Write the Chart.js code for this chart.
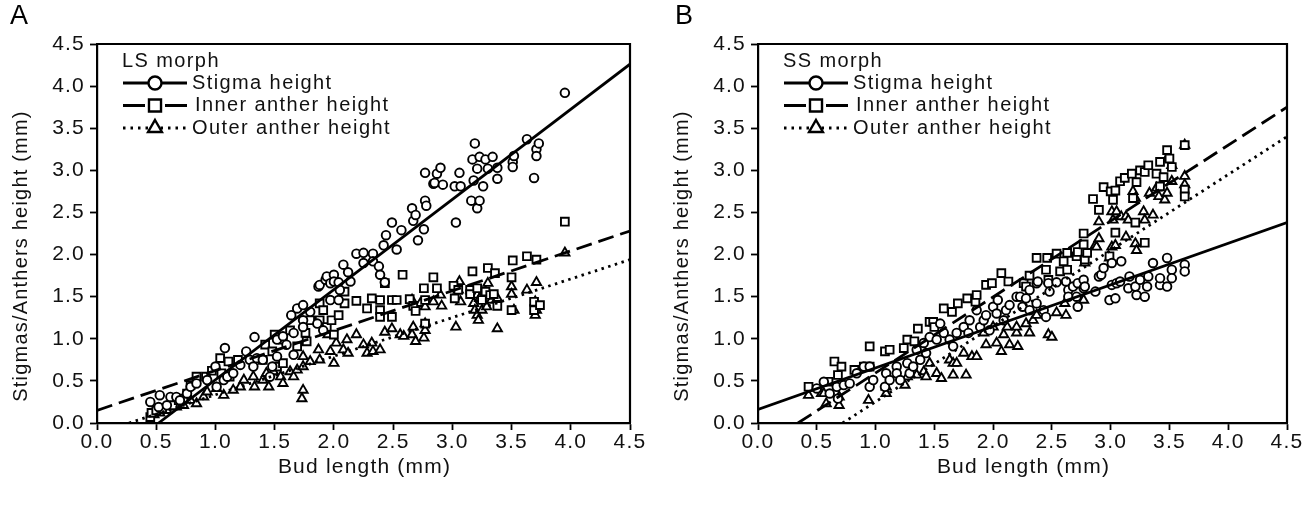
<!DOCTYPE html>
<html>
<head>
<meta charset="utf-8">
<script src="https://cdn.jsdelivr.net/npm/chart.js@4.4.0/dist/chart.umd.min.js"></script>
<style>
  html, body { margin: 0; padding: 0; background: #fff; }
  body { width: 1313px; height: 508px; position: relative; overflow: hidden; font-family: "Liberation Sans", Arial, sans-serif; }
  .panel { position: absolute; top: 0; height: 508px; }
  #wrapA { left: 0; width: 656px; }
  #wrapB { left: 656px; width: 657px; }
  .letter { position: absolute; top: 0px; font-size: 27px; color: #000; z-index: 2; }
</style>
</head>
<body>
<div class="letter" style="left:10px">A</div>
<div class="letter" style="left:675px">B</div>
<div class="panel" id="wrapA"><canvas id="chartA" width="656" height="508"></canvas></div>
<div class="panel" id="wrapB"><canvas id="chartB" width="657" height="508"></canvas></div>
<script>
// ---- data: [bud length, height] in mm ----
const xTicks = [0, 0.5, 1, 1.5, 2, 2.5, 3, 3.5, 4, 4.5];
const yTicks = [0, 0.5, 1, 1.5, 2, 2.5, 3, 3.5, 4, 4.5];

// panel A, LS morph
const lsStigma = [[0.45,0.25],[0.52,0.19],[0.53,0.33],[0.59,0.21],[0.62,0.31],[0.67,0.31],[0.70,0.27],[0.76,0.35],[0.79,0.43],[0.84,0.47],[0.93,0.51],[1.00,0.67],[1.01,0.43],[1.07,0.51],[1.08,0.89],[1.10,0.55],[1.15,0.59],[1.21,0.69],[1.26,0.85],[1.29,0.75],[1.32,0.67],[1.33,1.02],[1.35,0.77],[1.40,0.75],[1.46,0.55],[1.48,0.67],[1.52,0.79],[1.52,0.99],[1.57,1.03],[1.60,0.93],[1.64,1.28],[1.66,1.07],[1.66,0.81],[1.69,1.36],[1.74,1.40],[1.74,1.22],[1.74,1.14],[1.80,1.32],[1.86,1.18],[1.87,1.62],[1.88,1.64],[1.91,1.10],[1.93,1.70],[1.94,1.74],[1.97,1.46],[1.97,1.66],[2.00,1.76],[2.00,1.68],[2.04,1.67],[2.04,1.46],[2.05,1.58],[2.08,1.88],[2.12,1.79],[2.14,1.68],[2.19,2.01],[2.25,2.02],[2.25,1.90],[2.33,2.01],[2.33,1.92],[2.38,1.86],[2.39,1.76],[2.42,2.11],[2.43,1.67],[2.44,2.23],[2.49,2.38],[2.53,2.06],[2.57,2.29],[2.66,2.55],[2.67,2.40],[2.69,2.47],[2.71,2.17],[2.76,2.30],[2.77,2.64],[2.77,2.97],[2.78,2.58],[2.84,2.84],[2.85,2.85],[2.87,2.96],[2.90,3.03],[2.92,2.83],[3.02,2.81],[3.03,2.38],[3.06,2.97],[3.07,2.81],[3.16,2.64],[3.17,3.13],[3.18,2.88],[3.19,3.32],[3.21,3.02],[3.21,2.55],[3.23,2.64],[3.23,3.16],[3.26,2.81],[3.28,3.13],[3.30,3.02],[3.34,3.16],[3.38,3.03],[3.38,2.90],[3.51,3.10],[3.51,3.04],[3.52,3.17],[3.63,3.37],[3.69,2.91],[3.71,3.25],[3.71,3.17],[3.73,3.32],[3.95,3.92]];
const lsInner = [[0.45,0.07],[0.46,0.12],[0.50,0.15],[0.55,0.17],[0.64,0.21],[0.69,0.27],[0.73,0.29],[0.76,0.35],[0.79,0.45],[0.84,0.55],[0.92,0.55],[0.97,0.62],[1.04,0.77],[1.05,0.59],[1.11,0.73],[1.12,0.55],[1.19,0.75],[1.40,0.75],[1.42,0.93],[1.48,0.85],[1.50,1.05],[1.52,0.67],[1.57,0.99],[1.57,0.71],[1.63,1.10],[1.69,0.91],[1.76,1.07],[1.77,0.97],[1.80,1.22],[1.88,1.42],[1.88,1.22],[1.91,1.34],[1.94,1.14],[1.98,1.22],[2.00,1.05],[2.04,1.28],[2.09,1.56],[2.09,1.42],[2.19,1.45],[2.28,1.36],[2.32,1.48],[2.39,1.46],[2.39,1.34],[2.39,1.26],[2.43,1.66],[2.49,1.46],[2.49,1.26],[2.53,1.46],[2.58,1.76],[2.64,1.47],[2.67,1.39],[2.69,1.33],[2.76,1.60],[2.77,1.46],[2.77,1.18],[2.84,1.73],[2.87,1.60],[3.01,1.63],[3.02,1.48],[3.05,1.58],[3.15,1.58],[3.15,1.53],[3.17,1.80],[3.21,1.60],[3.25,1.46],[3.28,1.56],[3.30,1.84],[3.32,1.52],[3.35,1.53],[3.36,1.78],[3.38,1.39],[3.50,1.73],[3.50,1.34],[3.51,1.93],[3.63,1.98],[3.69,1.44],[3.69,1.34],[3.71,1.94],[3.74,1.40],[3.95,2.39]];
const lsOuter = [[0.48,0.10],[0.53,0.12],[0.59,0.15],[0.67,0.19],[0.73,0.21],[0.79,0.27],[0.84,0.23],[0.90,0.31],[0.93,0.37],[1.01,0.41],[1.07,0.33],[1.15,0.39],[1.21,0.43],[1.24,0.51],[1.32,0.55],[1.33,0.43],[1.40,0.51],[1.43,0.59],[1.45,0.43],[1.49,0.61],[1.55,0.55],[1.57,0.47],[1.63,0.61],[1.66,0.55],[1.69,0.63],[1.73,0.29],[1.74,0.39],[1.74,0.79],[1.74,0.67],[1.80,0.73],[1.87,0.87],[1.88,0.75],[1.95,1.05],[1.97,0.85],[2.00,0.71],[2.02,0.95],[2.08,0.87],[2.11,0.99],[2.12,0.83],[2.19,1.05],[2.25,0.93],[2.28,0.83],[2.32,0.95],[2.33,0.85],[2.39,0.87],[2.43,1.08],[2.49,1.12],[2.56,1.05],[2.59,1.03],[2.66,1.05],[2.67,1.14],[2.69,0.97],[2.66,1.46],[2.73,1.42],[2.76,1.01],[2.77,1.18],[2.77,1.10],[2.77,1.38],[2.84,1.44],[2.90,1.52],[2.91,1.39],[3.03,1.14],[3.05,1.58],[3.06,1.68],[3.07,1.44],[3.18,1.42],[3.19,1.34],[3.21,1.52],[3.21,1.28],[3.22,1.22],[3.23,1.48],[3.25,1.34],[3.28,1.56],[3.29,1.38],[3.30,1.66],[3.33,1.46],[3.38,1.48],[3.38,1.12],[3.50,1.62],[3.50,1.53],[3.52,1.34],[3.63,1.58],[3.70,1.44],[3.71,1.34],[3.70,1.28],[3.71,1.67],[3.95,2.02]];
const lsStigmaFit = [[0.52,0],[4.5,4.26]];
const lsInnerFit = [[0,0.15],[4.5,2.28]];
const lsOuterFit = [[0.27,0],[4.5,1.94]];

// panel B, SS morph
const ssStigma = [[0.50,0.41],[0.56,0.49],[0.61,0.35],[0.67,0.43],[0.68,0.29],[0.73,0.45],[0.78,0.47],[0.84,0.59],[0.90,0.67],[0.95,0.67],[0.95,0.43],[0.98,0.51],[1.08,0.43],[1.09,0.59],[1.12,0.51],[1.18,0.67],[1.18,0.59],[1.21,0.51],[1.27,0.71],[1.29,0.59],[1.32,0.67],[1.35,0.87],[1.38,0.75],[1.41,0.95],[1.43,0.83],[1.46,1.02],[1.52,0.99],[1.55,1.18],[1.58,1.07],[1.63,0.99],[1.66,0.91],[1.69,1.07],[1.75,1.14],[1.79,1.07],[1.80,1.22],[1.86,1.34],[1.89,1.14],[1.92,1.22],[1.94,1.28],[1.97,1.10],[2.00,1.38],[2.03,1.30],[2.04,1.46],[2.09,1.22],[2.11,1.34],[2.14,1.40],[2.20,1.50],[2.23,1.50],[2.25,1.38],[2.28,1.48],[2.31,1.34],[2.31,1.58],[2.37,1.42],[2.37,1.66],[2.38,1.68],[2.43,1.34],[2.45,1.26],[2.47,1.66],[2.48,1.56],[2.54,1.67],[2.62,1.68],[2.64,1.58],[2.64,1.50],[2.68,1.62],[2.71,1.50],[2.72,1.66],[2.72,1.38],[2.77,1.70],[2.77,1.60],[2.78,1.62],[2.87,1.56],[2.90,1.74],[2.92,1.76],[2.94,1.84],[2.99,1.46],[3.01,1.90],[3.01,1.64],[3.04,1.48],[3.05,1.66],[3.08,1.68],[3.09,1.92],[3.15,1.60],[3.16,1.74],[3.21,1.62],[3.22,1.52],[3.25,1.70],[3.29,1.50],[3.31,1.62],[3.32,1.74],[3.36,1.90],[3.42,1.64],[3.42,1.72],[3.48,1.96],[3.48,1.62],[3.52,1.82],[3.52,1.72],[3.63,1.88],[3.63,1.80]];
const ssInner = [[0.43,0.43],[0.60,0.49],[0.65,0.73],[0.68,0.57],[0.71,0.67],[0.82,0.63],[0.90,0.67],[0.95,0.67],[0.95,0.91],[1.08,0.85],[1.12,0.87],[1.24,0.89],[1.27,0.99],[1.33,0.97],[1.36,1.12],[1.46,1.20],[1.49,1.20],[1.50,1.14],[1.58,1.36],[1.65,1.32],[1.70,1.42],[1.78,1.48],[1.85,1.44],[1.86,1.52],[1.94,1.64],[1.99,1.66],[2.07,1.78],[2.13,1.68],[2.26,1.66],[2.28,1.62],[2.31,1.75],[2.37,1.96],[2.45,1.82],[2.46,1.96],[2.47,1.70],[2.54,2.01],[2.57,1.80],[2.60,1.92],[2.63,2.02],[2.63,1.82],[2.71,1.98],[2.72,2.03],[2.77,2.25],[2.77,2.12],[2.78,1.94],[2.80,2.02],[2.85,2.66],[2.90,2.53],[2.94,2.80],[2.99,1.98],[3.00,2.75],[3.02,2.65],[3.04,2.26],[3.04,2.76],[3.08,2.87],[3.12,2.91],[3.18,2.96],[3.19,2.67],[3.21,2.38],[3.22,2.86],[3.25,3.00],[3.29,2.98],[3.29,2.14],[3.32,3.06],[3.39,2.96],[3.42,3.10],[3.42,2.81],[3.45,2.92],[3.48,3.24],[3.50,3.14],[3.52,3.04],[3.63,3.30],[3.63,2.77],[3.63,2.69]];
const ssOuter = [[0.43,0.33],[0.54,0.35],[0.56,0.35],[0.58,0.23],[0.69,0.21],[0.69,0.31],[0.94,0.27],[1.09,0.35],[1.09,0.43],[1.25,0.45],[1.27,0.55],[1.35,0.57],[1.41,0.61],[1.43,0.55],[1.46,0.71],[1.52,0.59],[1.56,0.53],[1.63,0.75],[1.66,0.57],[1.66,0.71],[1.69,0.71],[1.75,0.83],[1.77,0.57],[1.82,0.79],[1.86,0.79],[1.92,1.07],[1.94,0.93],[2.00,1.14],[2.03,0.95],[2.07,0.85],[2.09,1.05],[2.12,1.14],[2.14,0.93],[2.20,1.07],[2.20,1.14],[2.21,0.91],[2.28,1.18],[2.31,1.07],[2.34,1.22],[2.37,1.28],[2.47,1.05],[2.50,1.02],[2.54,1.31],[2.61,1.42],[2.62,1.28],[2.77,1.46],[2.78,1.90],[2.87,2.11],[2.88,2.09],[2.90,2.19],[2.90,2.39],[2.99,1.96],[3.01,2.09],[3.01,2.51],[3.02,2.41],[3.04,2.11],[3.05,2.51],[3.09,2.45],[3.13,2.21],[3.13,2.45],[3.15,2.41],[3.19,2.75],[3.21,2.13],[3.21,2.67],[3.22,2.05],[3.28,2.51],[3.29,2.41],[3.33,2.73],[3.36,2.47],[3.39,2.79],[3.41,2.69],[3.46,2.65],[3.48,2.73],[3.48,3.14],[3.52,2.87],[3.52,3.06],[3.63,2.93],[3.63,2.83],[3.63,3.30]];
const ssStigmaFit = [[0,0.16],[4.5,2.38]];
const ssInnerFit = [[0.34,0],[4.5,3.75]];
const ssOuterFit = [[0.72,0],[4.5,3.40]];

const seriesNames = ['Stigma height', 'Inner anther height', 'Outer anther height'];
const xTitle = 'Bud length (mm)';
const yTitle = 'Stigmas/Anthers height (mm)';

// ---- styling ----
const family = '"Liberation Sans", Arial, sans-serif';
const ink = '#000';
const textInk = '#111';
const markers = [
  { pointStyle: 'circle', radius: 4.3, legendRadius: 6.5 },
  { pointStyle: 'rect', radius: 5.5, legendRadius: 8.5 },
  { pointStyle: 'triangle', radius: 5.3, legendRadius: 8 },
];
const dashes = [[], [16, 7], [2.5, 4.5]];
const legendDashes = [[], [22, 20], [2.5, 5]];

const pts = arr => arr.map(([x, y]) => ({ x, y }));

// the figure's lettering is a little wide, so add some tracking
const spacing = {
  id: 'spacing',
  beforeDraw(chart) { chart.ctx.letterSpacing = '1.2px'; }
};

const frameBox = {
  id: 'frameBox',
  afterDraw(chart) {
    const { ctx, chartArea: a } = chart;
    ctx.save();
    ctx.strokeStyle = ink;
    ctx.lineWidth = 2.2;
    ctx.beginPath();
    ctx.moveTo(a.left, a.top);
    ctx.lineTo(a.right, a.top);
    ctx.lineTo(a.right, a.bottom);
    ctx.stroke();
    ctx.restore();
  }
};

// axis titles, placed where the figure has them
const axisTitles = {
  id: 'axisTitles',
  afterDraw(chart) {
    const { ctx, chartArea: a } = chart;
    ctx.save();
    ctx.fillStyle = textInk;
    ctx.textAlign = 'center';
    ctx.textBaseline = 'middle';
    ctx.font = '21px ' + family;
    ctx.fillText(xTitle, (a.left + a.right) / 2 + 1, 467);
    ctx.translate(a.left - 76, 256);
    ctx.rotate(-Math.PI / 2);
    ctx.font = '20px ' + family;
    ctx.fillText(yTitle, 0, 0);
    ctx.restore();
  }
};

const legendBox = {
  id: 'legendBox',
  afterDraw(chart, args, opts) {
    const { ctx, chartArea: a } = chart;
    const x0 = a.left + 26;
    ctx.save();
    ctx.letterSpacing = '1.4px';
    ctx.font = '20px ' + family;
    ctx.fillStyle = textInk;
    ctx.textBaseline = 'middle';
    ctx.textAlign = 'left';
    ctx.fillText(opts.title, x0 - 1, a.top + 17);
    seriesNames.forEach((name, i) => {
      const y = a.top + 39 + i * 22.5;
      ctx.strokeStyle = ink;
      ctx.lineWidth = 2.8;
      ctx.setLineDash(legendDashes[i]);
      ctx.beginPath();
      ctx.moveTo(x0, y);
      ctx.lineTo(x0 + 64, y);
      ctx.stroke();
      ctx.setLineDash([]);
      ctx.lineWidth = 2.4;
      ctx.fillStyle = '#fff';
      Chart.helpers.drawPoint(ctx, { pointStyle: markers[i].pointStyle, radius: markers[i].legendRadius, borderWidth: 2.4, rotation: 0 }, x0 + 32, y);
      ctx.fillStyle = textInk;
      ctx.fillText(name, x0 + 69 + (i === 1 ? 3 : 0), y);
    });
    ctx.restore();
  }
};

function makeChart(id, title, yWidth, scatter, fits) {
  const datasets = [];
  fits.forEach((f, i) => datasets.push({
    label: seriesNames[i] + ' fit',
    data: pts(f),
    showLine: true,
    pointRadius: 0,
    borderColor: ink,
    borderWidth: 2.8,
    borderDash: dashes[i],
    fill: false,
    order: 0,
  }));
  scatter.forEach((s, i) => datasets.push({
    label: seriesNames[i],
    data: pts(s),
    pointStyle: markers[i].pointStyle,
    pointRadius: markers[i].radius,
    pointBorderWidth: 1.9,
    pointBorderColor: ink,
    pointBackgroundColor: '#fff',
    showLine: false,
    order: 1 + i,
  }));

  const tickFont = { size: 21, family };
  return new Chart(document.getElementById(id), {
    type: 'scatter',
    data: { datasets },
    plugins: [spacing, frameBox, axisTitles, legendBox],
    options: {
      responsive: false,
      animation: false,
      events: [],
      layout: { padding: { top: 44, right: 26, bottom: 0, left: 0 } },
      plugins: {
        legend: { display: false },
        tooltip: { enabled: false },
        legendBox: { title },
      },
      scales: {
        x: {
          type: 'linear', min: 0, max: 4.5,
          afterBuildTicks: s => { s.ticks = xTicks.map(v => ({ value: v })); },
          afterFit: s => { s.height = 85; },
          ticks: { color: textInk, font: tickFont, padding: 0, callback: v => v.toFixed(1) },
          grid: { drawOnChartArea: false, drawTicks: true, tickLength: 7, tickColor: ink, tickWidth: 1.8 },
          border: { color: ink, width: 2.2 },
          title: { display: false },
        },
        y: {
          type: 'linear', min: 0, max: 4.5,
          afterBuildTicks: s => { s.ticks = yTicks.map(v => ({ value: v })); },
          afterFit: s => { s.width = yWidth; },
          ticks: { color: textInk, font: tickFont, padding: 5, callback: v => v.toFixed(1) },
          grid: { drawOnChartArea: false, drawTicks: true, tickLength: 7, tickColor: ink, tickWidth: 1.8 },
          border: { color: ink, width: 2.2 },
          title: { display: false },
        },
      },
    },
  });
}

makeChart('chartA', 'LS morph', 97, [lsStigma, lsInner, lsOuter], [lsStigmaFit, lsInnerFit, lsOuterFit]);
makeChart('chartB', 'SS morph', 102, [ssStigma, ssInner, ssOuter], [ssStigmaFit, ssInnerFit, ssOuterFit]);
</script>
</body>
</html>
